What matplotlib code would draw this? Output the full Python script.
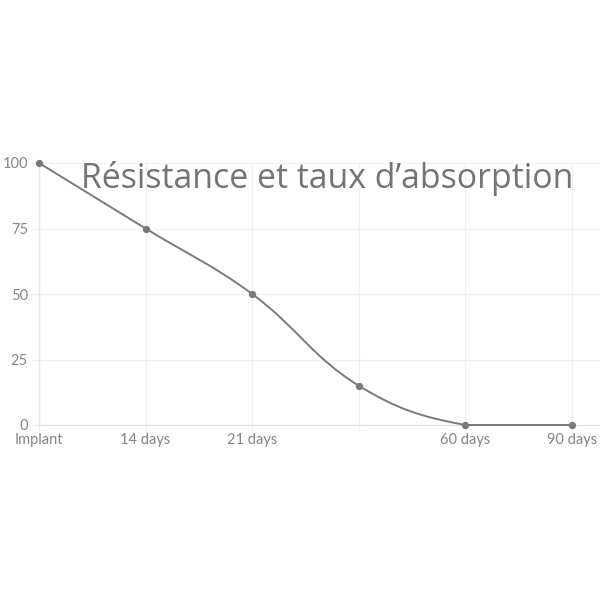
import matplotlib
matplotlib.use("Agg")
import matplotlib.pyplot as plt
from matplotlib.path import Path
from matplotlib.patches import PathPatch
import numpy as np

# chart data
labels = ["Implant", "14 days", "21 days", "", "60 days", "90 days"]
values = [100, 75, 50, 15, 0, 0]
y_ticks = [0, 25, 50, 75, 100]
title = "Résistance et taux d\u2019absorption"

line_color = "#7a7a7a"
grid_color = "#f0f0f0"
text_color = "#747474"


def spline_path(xs, ys, sx, sy, tension=0.4):
    """Chart.js style bezier through the points, distances in pixel units."""
    px = np.asarray(xs, float) * sx
    py = np.asarray(ys, float) * sy
    n = len(px)
    cps = []
    for i in range(n):
        prev = i - 1 if i > 0 else i
        nxt = i + 1 if i < n - 1 else i
        d01 = np.hypot(px[i] - px[prev], py[i] - py[prev])
        d12 = np.hypot(px[nxt] - px[i], py[nxt] - py[i])
        tot = d01 + d12
        s01 = d01 / tot if tot else 0
        s12 = d12 / tot if tot else 0
        fa = tension * s01
        fb = tension * s12
        cp_prev = (px[i] - fa * (px[nxt] - px[prev]), py[i] - fa * (py[nxt] - py[prev]))
        cp_next = (px[i] + fb * (px[nxt] - px[prev]), py[i] + fb * (py[nxt] - py[prev]))
        cps.append((cp_prev, cp_next))
    verts = [(px[0] / sx, py[0] / sy)]
    codes = [Path.MOVETO]
    for i in range(n - 1):
        c1 = cps[i][1]
        c2 = cps[i + 1][0]
        verts += [(c1[0] / sx, max(c1[1] / sy, 0)),
                  (c2[0] / sx, max(c2[1] / sy, 0)),
                  (px[i + 1] / sx, py[i + 1] / sy)]
        codes += [Path.CURVE4] * 3
    return Path(verts, codes)


plt.rcParams['font.family'] = ['Lato', 'DejaVu Sans']

fig = plt.figure(figsize=(6, 6), dpi=100)
ax = fig.add_axes([39 / 600, 1 - 425 / 600, 561 / 600, 262 / 600])

x = np.arange(len(labels))
x_max = (600 - 39) / ((572 - 39) / 5)
ax.set_xlim(0, x_max)
ax.set_ylim(0, 100)

# px per data unit, used for the smoothing
sx = (572 - 39) / 5
sy = 262 / 100

ax.add_patch(PathPatch(spline_path(x, values, sx, sy), facecolor="none",
                       edgecolor=line_color, lw=1.4, zorder=3, clip_on=False))
ax.scatter(x, values, s=18, color=line_color, zorder=4, clip_on=False)

ax.set_xticks(x)
ax.set_xticklabels(labels)
ax.set_yticks(y_ticks)
ax.grid(True, color=grid_color, lw=0.9)
ax.set_axisbelow(True)
for side in ["top", "right"]:
    ax.spines[side].set_visible(False)
for side in ["left", "bottom"]:
    ax.spines[side].set_color("#e3e3e3")
    ax.spines[side].set_linewidth(0.9)
ax.tick_params(axis="both", colors=grid_color, length=5, width=0.9,
               labelcolor="#858585", labelsize=10.5)
ax.tick_params(axis="x", pad=1)
ax.tick_params(axis="y", pad=3)

ax.text(327 / 600, 1 - 178 / 600, title, transform=fig.transFigure, ha="center",
        va="center", fontsize=24.4, color=text_color,
        family=["Open Sans", "DejaVu Sans"])

fig.savefig("out.png", dpi=100, facecolor="white")
